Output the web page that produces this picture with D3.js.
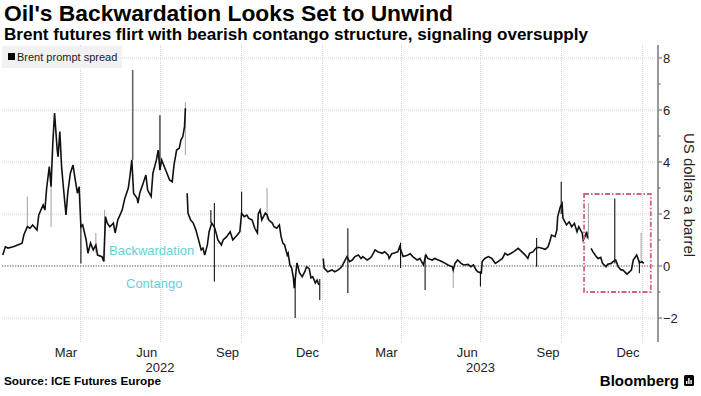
<!DOCTYPE html>
<html><head><meta charset="utf-8">
<script src="https://cdn.jsdelivr.net/npm/d3@7"></script>
<style>body{margin:0;background:#fff;overflow:hidden}</style>
</head><body>
<svg id="c" width="701" height="396"></svg>
<script>
// ---------- DATA ----------
const seriesName = "Brent prompt spread";
const seriesStart = "2022-01-01"; // day offsets below count from this date
const dayOffset = [2,5,8,14,19,24,26,30,33,36,41,43,48,50,52,55,57,59,61,64,65,67,69,71,74,76,79,82,84,87,89,91,93,97,99,102,105,108,110,115,117,119,121,124,128,130,133,138,141,145,147,149,151,155,156,158,162,165,167,171,173,177,179,181,183,186,189,192,195,197,200,203,205,207,209,210,211,212,213,216,219,222,224,228,230,232,235,237,240,243,245,247,251,253,257,261,264,269,272,274,277,280,282,286,289,292,293,295,297,301,303,305,309,311,314,317,319,321,323,326,327,329,331,333,334,337,338,340,343,346,348,351,353,355,358,360,362,364,367,368,370,372,377,380,384,388,391,394,397,400,403,407,410,412,417,420,422,426,429,434,437,441,442,445,449,452,454,458,462,466,469,474,477,481,484,486,491,494,498,502,506,509,514,515,517,520,524,527,532,535,538,541,543,547,548,551,555,559,563,566,571,574,577,581,584,589,593,597,600,602,606,609,612,616,620,623,625,627,631,633,634,637,639,640,641,644,647,650,653,656,658,662,663,665,667,668,669,672,674,678,680,683,685,689,691,695,697,700,703,706,708,713,716,718,720,724,727,730,732];
const spread = [0.42,0.74,0.69,0.74,0.81,0.88,1.19,1.51,1.45,1.58,1.38,1.96,2.35,2.15,3.0,3.82,3.05,4.73,5.88,4.46,4.2,5.17,3.82,3.05,1.96,2.8,3.57,3.88,3.44,2.8,3.05,1.51,1.58,1.0,0.49,0.88,0.62,0.8,0.42,0.36,0.17,1.9,1.65,1.51,1.65,1.27,1.77,2.15,2.6,3.0,3.5,4.08,2.8,2.6,2.42,2.8,3.19,3.5,2.92,2.67,3.57,4.08,4.46,3.69,4.08,3.82,3.57,3.31,3.24,3.88,4.46,4.53,4.85,4.97,5.36,6.07,null,2.8,2.03,1.77,1.65,1.38,1.13,0.62,0.69,0.42,0.81,1.32,1.65,1.5,1.27,1.0,0.81,1.0,1.13,1.32,1.0,1.19,1.32,2.03,1.9,1.96,1.84,1.77,1.45,1.27,2.0,2.15,1.77,2.03,1.96,1.77,1.65,1.51,1.45,1.58,1.13,0.88,0.81,0.42,0.49,0.04,-0.08,-0.46,-0.85,0.12,0.0,-0.27,-0.41,-0.22,-0.03,-0.1,-0.46,-0.41,-0.65,-0.54,-0.73,null,0.29,-0.08,-0.15,-0.22,-0.15,-0.22,-0.15,-0.03,0.17,0.36,0.17,0.23,0.36,0.42,0.29,0.36,0.23,0.29,0.36,0.62,0.55,0.49,0.55,0.42,0.29,0.47,0.51,0.55,0.74,0.36,0.4,0.47,0.36,0.23,0.29,0.04,0.42,0.29,0.23,0.29,0.23,0.17,0.1,0.04,-0.03,-0.15,0.1,0.23,0.1,0.04,0.06,-0.03,0.04,-0.15,-0.22,-0.27,0.17,0.29,0.36,0.29,0.1,0.17,0.29,0.49,0.42,0.49,0.55,0.68,0.55,0.42,0.29,0.49,0.55,0.68,0.72,0.68,0.64,0.74,0.94,1.19,1.13,1.38,1.9,2.28,2.4,1.84,1.77,1.58,1.7,1.51,1.64,1.32,1.51,1.26,1.0,1.13,1.32,1.06,null,0.68,0.55,0.36,0.29,0.33,0.1,-0.03,0.07,0.1,0.17,0.23,-0.03,-0.15,-0.15,-0.31,-0.22,-0.15,0.23,0.42,0.13,0.17,0.1];

// intraday high/low wicks (expiry spikes)
const spikeDay  = [30,57,91,108,118,150,181,210,239,243,274,303,335,363,395,455,483,515,546,610,638,669,699,727,729];
const spikeLow  = [1.5,1.5,0.1,0.5,0.17,4.08,3.69,4.27,1.65,-0.6,1.9,1.77,-2.0,-1.31,-1.04,-0.08,-0.92,-0.85,-0.79,-0.03,2.0,1.0,0.1,-0.28,0.1];
const spikeHigh = [2.67,3.05,1.6,1.27,2.15,7.54,5.8,6.3,2.15,2.42,2.86,3.0,-0.46,-0.5,1.45,0.9,0.42,-0.1,-0.2,1.08,3.24,2.41,2.6,0.2,1.28];
const spikeTone = ["g","g","k","g","g","m","k","g","k","k","k","g","k","k","k","k","k","g","k","k","k","g","k","k","g"];

const yTickValues = [-2,0,2,4,6,8];
const yMinorValues = [-1,1,3,5,7];
const gridDates = ["2022-04-01","2022-07-01","2022-10-01","2023-01-01","2023-04-01","2023-07-01","2023-10-01","2024-01-01"];
const monthDates = ["2022-03-16","2022-06-16","2022-09-16","2022-12-16","2023-03-16","2023-06-16","2023-09-16","2023-12-16"];
const monthLabels = ["Mar","Jun","Sep","Dec","Mar","Jun","Sep","Dec"];
const yearDates = ["2022-07-01","2023-07-01"];
const yearLabels = ["2022","2023"];
const highlight = {from:"2023-10-27", to:"2024-01-11", top:2.77, bottom:-1.0};

const title = "Oil's Backwardation Looks Set to Unwind";
const subtitle = "Brent futures flirt with bearish contango structure, signaling oversupply";
const yTitle = "US dollars a barrel";
const source = "Source: ICE Futures Europe";

// ---------- CHART ----------
const svg = d3.select("#c");
const parse = d3.utcParse("%Y-%m-%d");
const t0 = parse(seriesStart);
const dateOf = d => d3.utcDay.offset(t0, d);

const x = d3.scaleUtc().domain([parse("2022-01-01"), parse("2024-01-01")]).range([1, 642]);
const y = d3.scaleLinear().domain([-2, 8]).range([318, 58]);

const plotTop = 45, plotBottom = 342, plotLeft = 2, axisX = 658;
const font = "'Liberation Sans', Arial, sans-serif";
const narrow = "'Liberation Sans Narrow', 'Liberation Sans', Arial, sans-serif";

// titles
svg.append("text").attr("x",4).attr("y",21).text(title)
  .attr("font-family",font).attr("font-weight","bold").attr("font-size",22).attr("fill","#000")
  .attr("textLength",449).attr("lengthAdjust","spacingAndGlyphs");
svg.append("text").attr("x",4).attr("y",40).text(subtitle)
  .attr("font-family",font).attr("font-weight","bold").attr("font-size",16).attr("fill","#000")
  .attr("textLength",584).attr("lengthAdjust","spacingAndGlyphs");

// gridlines
const g = svg.append("g");
g.selectAll("line.hg").data(yTickValues.filter(v=>v!==0)).join("line")
  .attr("x1",plotLeft).attr("x2",axisX-3).attr("y1",d=>y(d)).attr("y2",d=>y(d))
  .attr("stroke","#d4d4d4").attr("stroke-width",1).attr("stroke-dasharray","1,1");
g.selectAll("line.vg").data(gridDates).join("line")
  .attr("x1",d=>Math.round(x(parse(d)))+0.5).attr("x2",d=>Math.round(x(parse(d)))+0.5)
  .attr("y1",plotTop).attr("y2",plotBottom)
  .attr("stroke","#d4d4d4").attr("stroke-width",1).attr("stroke-dasharray","1,1");
g.append("line").attr("x1",plotLeft).attr("x2",axisX-3).attr("y1",y(0)).attr("y2",y(0))
  .attr("stroke","#8a8a8a").attr("stroke-width",1.3).attr("stroke-dasharray","1.3,1.3");

// legend
svg.append("rect").attr("x",2).attr("y",46).attr("width",120).attr("height",22).attr("fill","#f1f1f1");
svg.append("rect").attr("x",8).attr("y",53).attr("width",7).attr("height",7).attr("fill","#000");
svg.append("text").attr("x",17).attr("y",61).text(seriesName)
  .attr("font-family",font).attr("font-size",11).attr("fill","#222");

// annotations
svg.append("text").attr("x",109).attr("y",255).text("Backwardation")
  .attr("font-family",font).attr("font-size",13).attr("fill","#5fd3d6");
svg.append("text").attr("x",126).attr("y",288).text("Contango")
  .attr("font-family",font).attr("font-size",13).attr("fill","#5fd3d6");

// spikes
const toneColor = {k:"#111", g:"#a9a9a9", m:"#666"};
svg.append("g").selectAll("line").data(spikeDay.map((d,i)=>({d, lo:spikeLow[i], hi:spikeHigh[i], t:spikeTone[i]}))).join("line")
  .attr("x1",d=>x(dateOf(d.d))).attr("x2",d=>x(dateOf(d.d)))
  .attr("y1",d=>y(d.lo)).attr("y2",d=>y(d.hi))
  .attr("stroke",d=>toneColor[d.t]).attr("stroke-width",d=>d.t==="m"?1.6:1.1);

// series line
const pts = dayOffset.map((d,i)=>({date:dateOf(d), v:spread[i]}));
const line = d3.line().defined(d=>d.v!==null).x(d=>x(d.date)).y(d=>y(d.v));
svg.append("path").datum(pts).attr("d",line)
  .attr("fill","none").attr("stroke","#111").attr("stroke-width",1.6).attr("stroke-linejoin","miter");

// highlight box
svg.append("rect")
  .attr("x",x(parse(highlight.from))).attr("y",y(highlight.top))
  .attr("width",x(parse(highlight.to))-x(parse(highlight.from)))
  .attr("height",y(highlight.bottom)-y(highlight.top))
  .attr("fill","none").attr("stroke","#d4627f").attr("stroke-width",1.8)
  .attr("stroke-dasharray","5,2,1.5,2");

// right axis
const ax = svg.append("g");
ax.append("line").attr("x1",axisX).attr("x2",axisX).attr("y1",plotTop).attr("y2",plotBottom)
  .attr("stroke","#777").attr("stroke-width",1.5);
ax.selectAll("line.maj").data(yTickValues).join("line")
  .attr("x1",axisX).attr("x2",axisX+4).attr("y1",d=>y(d)).attr("y2",d=>y(d))
  .attr("stroke","#777").attr("stroke-width",1.2);
ax.selectAll("line.min").data(yMinorValues).join("line")
  .attr("x1",axisX).attr("x2",axisX+2.5).attr("y1",d=>y(d)).attr("y2",d=>y(d))
  .attr("stroke","#777").attr("stroke-width",1.2);
ax.selectAll("text").data(yTickValues).join("text")
  .attr("x",axisX+5).attr("y",d=>y(d)).attr("dy","0.36em").text(d=>d3.format("d")(d))
  .attr("font-family",narrow).attr("font-size",13).attr("fill","#222");
svg.append("text").attr("transform",`translate(684,195) rotate(90)`).attr("text-anchor","middle")
  .text(yTitle).attr("font-family",font).attr("font-size",15).attr("fill","#222");

// x labels
svg.append("g").selectAll("text").data(monthDates).join("text")
  .attr("x",d=>x(parse(d))).attr("y",357).attr("text-anchor","middle")
  .text((d,i)=>monthLabels[i]).attr("font-family",narrow).attr("font-size",13).attr("fill","#222");
svg.append("g").selectAll("text").data(yearDates).join("text")
  .attr("x",d=>x(parse(d))).attr("y",372).attr("text-anchor","middle")
  .text((d,i)=>yearLabels[i]).attr("font-family",narrow).attr("font-size",13).attr("fill","#222");

// footer
svg.append("text").attr("x",4).attr("y",385).text(source)
  .attr("font-family",font).attr("font-weight","bold").attr("font-size",11).attr("fill","#000")
  .attr("textLength",157).attr("lengthAdjust","spacingAndGlyphs");
svg.append("text").attr("x",679).attr("y",386).attr("text-anchor","end").text("Bloomberg")
  .attr("font-family",narrow).attr("font-weight","bold").attr("font-size",15).attr("fill","#000");
svg.append("rect").attr("x",684).attr("y",375).attr("width",10).attr("height",11).attr("rx",1.5).attr("fill","#000");
svg.append("g").selectAll("rect").data([3,6,4]).join("rect")
  .attr("x",(d,i)=>686+i*2.2).attr("y",d=>384-d).attr("width",1.4).attr("height",d=>d).attr("fill","#fff");
</script>
</body></html>
